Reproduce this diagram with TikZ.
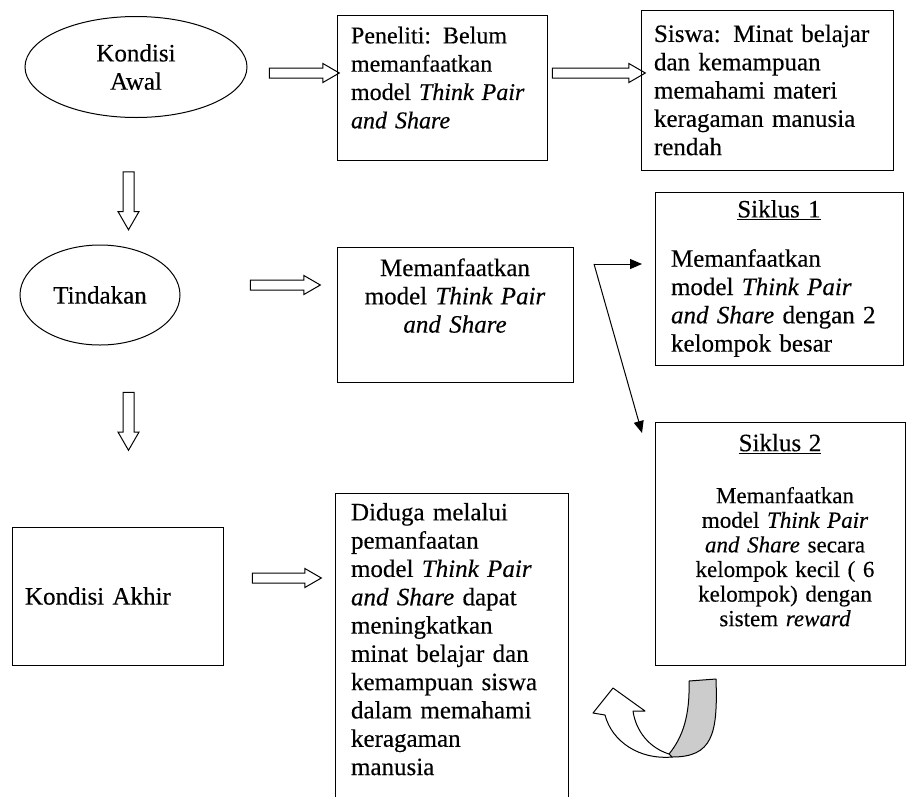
\documentclass[tikz,border=0pt]{standalone}
\usepackage{fontspec}
\setmainfont{Liberation Serif}[UprightFeatures={FakeBold=0.3}, ItalicFeatures={FakeBold=0.3}]
\usepackage{tikz}
\usetikzlibrary{arrows.meta,positioning,shapes.geometric,shapes.arrows}

% extra depth under the last line of a box
\newcommand{\lowgap}[1]{\rule[-#1]{0pt}{#1}}

\begin{document}
\begin{tikzpicture}[
x=1pt, y=-1pt,
font=\fontsize{25}{28.3}\selectfont,
state/.style={draw, ellipse, line width=1pt, align=center},
box/.style={draw, line width=1pt, inner sep=0pt, outer sep=0pt},
blockarr/.style={single arrow, draw, line width=1pt, inner xsep=0pt, inner ysep=4.5pt, outer sep=0pt, single arrow head extend=4.5pt, single arrow tip angle=60},
arr/.style={-{Triangle[length=12pt,width=10pt]}, line width=1pt}
]
\useasboundingbox (0,0) rectangle (907,796);
\clip (0,0) rectangle (907,796);

% left column
\node[state, minimum width=222pt, minimum height=101pt] (awal) at (136,67) {Kondisi\\Awal};
\node[state, minimum width=160pt, minimum height=100pt] (tindakan) at (100,295) {Tindakan};
\node[box, minimum width=211pt, minimum height=138pt, text width=185pt, align=left] (akhir) at (117.5,596) {Kondisi Akhir};

% middle column
\node[box, minimum width=210pt, minimum height=145pt, text width=182pt, align=left, font=\fontsize{24}{28.3}\selectfont] (peneliti) at (442,87.5) {Peneliti: Belum\\memanfaatkan\\model \textit{Think Pair}\\\textit{and Share}\lowgap{20pt}};
\node[box, minimum width=236pt, minimum height=135pt, text width=204pt, align=center] (manfaat) at (455,314.5) {Memanfaatkan\\model \textit{Think Pair}\\\textit{and Share}\lowgap{38pt}};
\node[box, anchor=north, minimum width=233pt, text width=201pt, inner ysep=10pt, align=left] (diduga) at (451.5,493) {Diduga melalui\\pemanfaatan\\model \textit{Think Pair}\\\textit{and Share} dapat\\meningkatkan\\minat belajar dan\\kemampuan siswa\\dalam memahami\\keragaman\\manusia\lowgap{20pt}};

% right column
\node[box, minimum width=252pt, minimum height=160pt, text width=226pt, align=left] (siswa) at (767,90) {Siswa: Minat belajar\\dan kemampuan\\memahami materi\\keragaman manusia\\rendah};
\node[box, minimum width=248pt, minimum height=173pt, text width=216pt, align=left] (siklus1) at (779,278.5) {\makebox[\linewidth]{\underline{Siklus 1}}\\[21pt]Memanfaatkan\\model \textit{Think Pair}\\\textit{and Share} dengan 2\\kelompok besar};
\node[box, minimum width=250pt, minimum height=243pt, text width=226pt, align=center, font=\fontsize{23}{24.6}\selectfont] (siklus2) at (780,543.5) {{\fontsize{25}{28.3}\selectfont\underline{Siklus 2}}\\[27.4pt]\hspace*{10pt}Memanfaatkan\\\hspace*{10pt}model \textit{Think Pair}\\\hspace*{10pt}\textit{and Share} secara\\\hspace*{10pt}kelompok kecil ( 6\\\hspace*{10pt}kelompok) dengan\\\hspace*{10pt}sistem \textit{reward}\lowgap{27pt}};

% hollow arrows
\node[blockarr, minimum height=70pt] (awalarr) at (300,73) {};
\node[blockarr, minimum height=93pt] (penelitiarr) at (594.5,73) {};
\node[blockarr, minimum height=70pt] (tindakanarr) at (281,285) {};
\node[blockarr, minimum height=69pt] (akhirarr) at (282.5,578) {};
\node[blockarr, rotate=-90, minimum height=58pt, inner ysep=5pt, single arrow head extend=5pt] (downA) at (128.5,196) {};
\node[blockarr, rotate=-90, minimum height=58pt, inner ysep=5pt, single arrow head extend=5pt] (downB) at (128.5,416.5) {};

% split to both cycles
\coordinate (fork) at (594,264);
\draw[arr, shorten >=13pt] (fork) -- (fork -| siklus1.west);
\draw[arr] (fork) -- ([xshift=-13pt,yshift=-11pt]siklus2.north west);

% curved return arrow
\filldraw[fill=black!20, line width=1pt, line join=round] (689,681) -- (716,679) .. controls (718,735) and (712,757) .. (672,757) -- (669,754) .. controls (683,737) and (690,715) .. (689,681) -- cycle;
\filldraw[fill=white, line width=1pt, line join=round] (669,754) .. controls (650,748) and (636,732) .. (633,711) -- (645,711) -- (613,688) -- (593,713) -- (605,715) .. controls (612,742) and (640,760) .. (672,757) -- cycle;
\end{tikzpicture}
\end{document}
